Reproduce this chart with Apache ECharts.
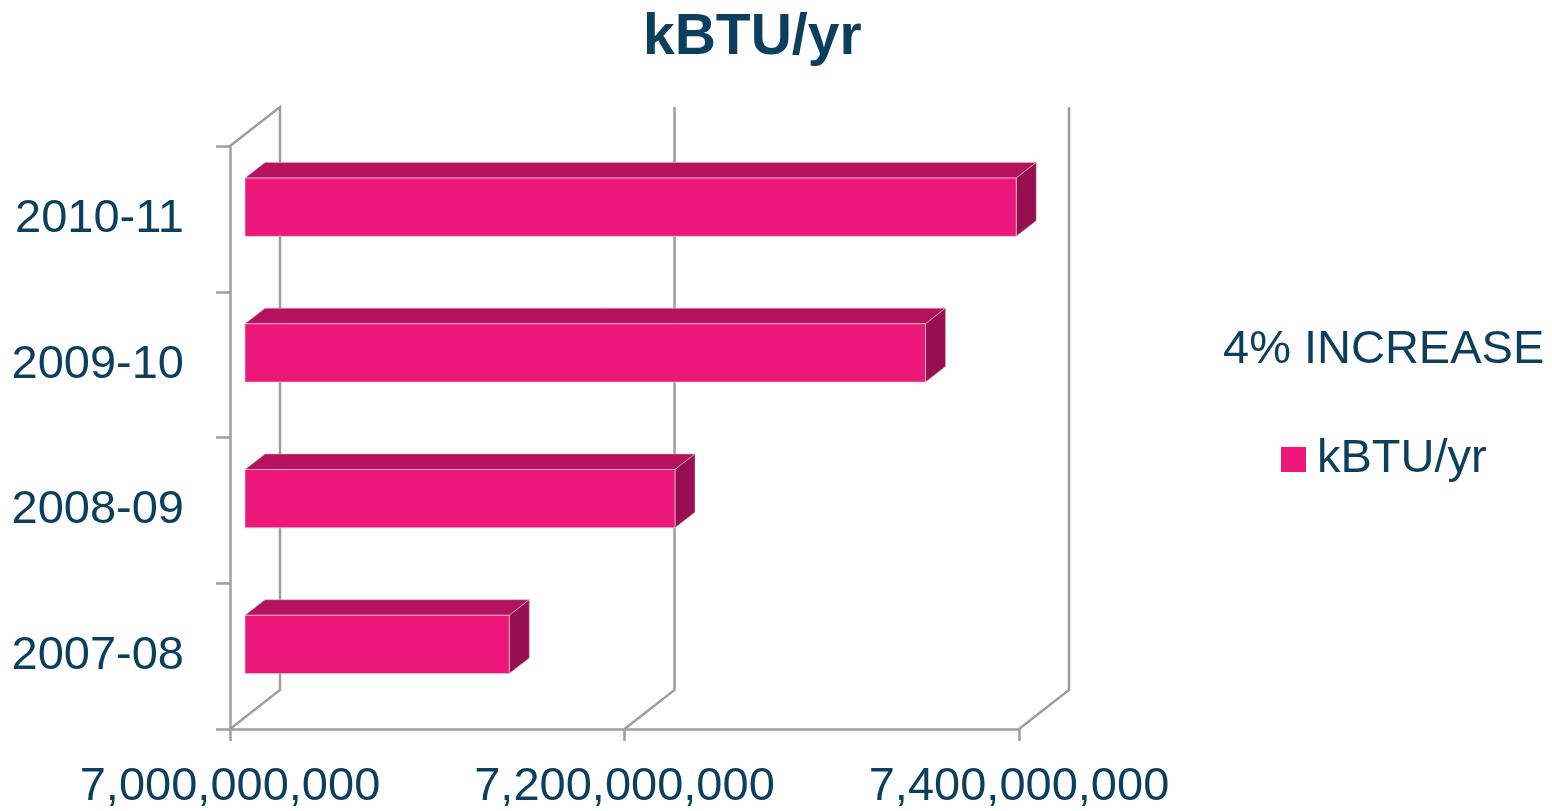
<!DOCTYPE html>
<html>
<head>
<meta charset="utf-8">
<title>kBTU/yr</title>
<script src="https://cdn.jsdelivr.net/npm/echarts@6/dist/echarts.min.js"></script>
<style>
  html, body { margin: 0; padding: 0; background: #fff; }
  #chart { width: 1552px; height: 811px; }
</style>
</head>
<body>
<div id="chart"></div>
<script>
// data
const years = ["2007-08", "2008-09", "2009-10", "2010-11"];
const kbtu = [7134000000, 7218000000, 7345000000, 7391000000];
const xTicks = [7000000000, 7200000000, 7400000000];
const seriesName = "kBTU/yr";
const noteText = "4% INCREASE";

const textColor = "#0b3f5e";
const lineColor = "#9e9e9e";
const font = "'Liberation Sans', Arial, sans-serif";

// 3d look: depth of the wall and of the bars
const wallDx = 50, wallDy = -39;
const barOff = 0.3, barDepth = 0.4;

const chart = echarts.init(document.getElementById("chart"));

// back wall lines for every x tick
function renderWall(params, api) {
  const cs = params.coordSys;
  const x = api.coord([api.value(0), 0])[0];
  const top = cs.y, bottom = cs.y + cs.height;
  const pts = [[x, bottom], [x + wallDx, bottom + wallDy], [x + wallDx, top + wallDy]];
  if (params.dataIndex === 0) pts.push([x, top]);
  return {
    type: "polyline",
    shape: { points: pts },
    style: { stroke: lineColor, lineWidth: 2.5, fill: null }
  };
}

// bars as little boxes
function renderBar(params, api) {
  const start = api.coord([xTicks[0], api.value(1)]);
  const end = api.coord([api.value(0), api.value(1)]);
  const band = api.size([0, 1])[1];
  const ox = wallDx * barOff, oy = wallDy * barOff;
  const dx = wallDx * barDepth, dy = wallDy * barDepth;
  const h = band * 0.4;
  const x0 = start[0] + ox, x1 = end[0] + ox;
  const yc = end[1] + oy;
  const y0 = yc - h / 2, y1 = yc + h / 2;
  return {
    type: "group",
    children: [
      {
        type: "polygon",
        shape: { points: [[x0, y0], [x1, y0], [x1 + dx, y0 + dy], [x0 + dx, y0 + dy]] },
        style: { fill: "#b5125d", stroke: "#c9c0c4", lineWidth: 0.6 }
      },
      {
        type: "polygon",
        shape: { points: [[x1, y0], [x1 + dx, y0 + dy], [x1 + dx, y1 + dy], [x1, y1]] },
        style: { fill: "#970f50", stroke: "#c9c0c4", lineWidth: 0.6 }
      },
      {
        type: "rect",
        shape: { x: x0, y: y0, width: x1 - x0, height: h },
        style: { fill: "#ec1778", stroke: "#d6cbd0", lineWidth: 0.8 }
      }
    ]
  };
}

const option = {
  animation: false,
  textStyle: { fontFamily: font },
  title: [
    {
      text: "kBTU/yr",
      left: 638,
      top: 5,
      textStyle: { fontSize: 57, fontWeight: "bold", color: textColor, fontFamily: font }
    },
    {
      text: noteText,
      left: 1218,
      top: 322,
      textStyle: { fontSize: 47, fontWeight: "normal", color: textColor, fontFamily: font }
    }
  ],
  legend: {
    data: [seriesName],
    left: 1276,
    top: 431,
    icon: "rect",
    itemWidth: 25,
    itemHeight: 25,
    textStyle: { fontSize: 47, color: textColor, fontFamily: font, padding: [0, 0, 0, 6] }
  },
  grid: { left: 230, top: 146, width: 789, height: 584 },
  xAxis: {
    type: "value",
    min: xTicks[0],
    max: xTicks[xTicks.length - 1],
    interval: xTicks[1] - xTicks[0],
    axisLine: { show: true, lineStyle: { color: lineColor, width: 2.5 } },
    axisTick: { show: true, length: 12, lineStyle: { color: lineColor, width: 2.5 } },
    splitLine: { show: false },
    axisLabel: {
      fontSize: 47,
      color: textColor,
      margin: 35,
      formatter: (v) => v.toLocaleString("en-US")
    }
  },
  yAxis: {
    type: "category",
    data: years,
    axisLine: { show: true, lineStyle: { color: lineColor, width: 2.5 } },
    axisTick: { show: true, length: 14, lineStyle: { color: lineColor, width: 2.5 } },
    splitLine: { show: false },
    axisLabel: { fontSize: 47, color: textColor, margin: 46, padding: [8, 0, 0, 0] }
  },
  series: [
    {
      name: "walls",
      type: "custom",
      silent: true,
      renderItem: renderWall,
      data: xTicks.map((v) => [v, 0]),
      encode: { x: 0 },
      z: 1
    },
    {
      name: seriesName,
      type: "custom",
      renderItem: renderBar,
      itemStyle: { color: "#ec1778" },
      data: kbtu.map((v, i) => [v, i]),
      encode: { x: 0, y: 1 },
      z: 3
    }
  ]
};

chart.setOption(option);
</script>
</body>
</html>
